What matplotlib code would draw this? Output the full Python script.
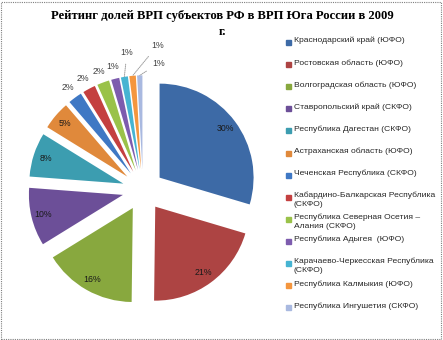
import numpy as np
import matplotlib
matplotlib.use("Agg")
import matplotlib.pyplot as plt
from matplotlib.patches import Rectangle
from matplotlib.lines import Line2D

regions = ["Краснодарский край (ЮФО)",
           "Ростовская область (ЮФО)",
           "Волгоградская область (ЮФО)",
           "Ставропольский край (СКФО)",
           "Республика Дагестан (СКФО)",
           "Астраханская область (ЮФО)",
           "Чеченская Республика (СКФО)",
           "Кабардино-Балкарская Республика\n(СКФО)",
           "Республика Северная Осетия –\nАлания (СКФО)",
           "Республика Адыгея  (ЮФО)",
           "Карачаево-Черкесская Республика\n(СКФО)",
           "Республика Калмыкия (ЮФО)",
           "Республика Ингушетия (СКФО)"]
shares = [29.6, 20.6, 16.0, 10.0, 7.6, 4.9, 2.4, 2.2, 2.1, 1.4, 1.2, 1.1, 0.9]
colors = ["#3d6aa6", "#ad4443", "#88a83e", "#6c4f98", "#3c9db0", "#e0893b",
          "#3f78c4", "#c44040", "#9ac249", "#7d5cae", "#46b4d2", "#f4963e",
          "#a9b9e0"]

def main():
    fig = plt.figure(figsize=(4.43, 3.40), dpi=100)
    fig.patch.set_facecolor("white")
    fig.add_artist(Rectangle((0.003, 0.003), 0.992, 0.992, transform=fig.transFigure,
                             fill=False, ec="#7f7f7f", lw=0.8, ls=(0, (1, 1))))

    fig.text(0.501, 0.953, "Рейтинг долей ВРП субъектов РФ в ВРП Юга России в 2009",
             ha="center", va="center", family="Liberation Serif", weight="bold",
             fontsize=9.1)
    fig.text(0.501, 0.906, "г.", ha="center", va="center", family="Liberation Serif",
             weight="bold", fontsize=9.1)

    ax = fig.add_axes([2/443, 9/340, 282/443, 282/340])

    expl = 0.22
    wedges, _ = ax.pie(shares, colors=colors, startangle=90, counterclock=False,
                       explode=[expl]*len(shares), radius=1.0,
                       wedgeprops=dict(linewidth=0))
    ax.set_xlim(-1.5, 1.5)
    ax.set_ylim(-1.5, 1.5)
    ax.set_aspect("equal")
    ax.axis("off")

    pct = ["%d%%" % int(round(v)) for v in shares]
    # leader-line labels for the tiny slices: (angle, distance)
    far = {10: (96.7, 1.47), 11: (84.4, 1.54), 12: (82.8, 1.36)}
    for i, w in enumerate(wedges):
        th = np.deg2rad((w.theta1 + w.theta2) / 2)
        d = np.array([np.cos(th), np.sin(th)])
        if i < 6:
            x, y = (expl + 0.87) * d
            ax.text(x, y, pct[i], ha="center", va="center", fontsize=6.3,
                    family="Liberation Sans", color="#1a1a1a")
        elif i < 10:
            x, y = 1.35 * d
            ax.text(x, y, pct[i], ha="center", va="center", fontsize=6.3,
                    family="Liberation Sans", color="#404040")
        else:
            a, r = far[i]
            lx, ly = r * np.cos(np.deg2rad(a)), r * np.sin(np.deg2rad(a))
            tip = (expl + 1.0) * d
            ax.annotate(pct[i], xy=tip, xytext=(lx, ly), ha="center", va="center",
                        fontsize=6.3, family="Liberation Sans", color="#404040",
                        arrowprops=dict(arrowstyle="-", color="#a0a0a0", lw=0.7,
                                        ls=(0, (1, 1)), shrinkA=3, shrinkB=0),
                        annotation_clip=False)

    # legend drawn by hand to mimic the spacing of the original
    y0, step = 1 - 42/340, 22.1/340
    for i, (lab, c) in enumerate(zip(regions, colors)):
        y = y0 - i * step
        fig.add_artist(Line2D([288/443], [y], marker="s", ms=3.6, color=c, lw=0,
                              transform=fig.transFigure))
        fig.text(294/443, y + 5/340, lab, ha="left", va="top", fontsize=6.1,
                 family="Liberation Sans", color="#262626", linespacing=1.3)

    fig.savefig("out.png", dpi=100)
    plt.close()


if __name__ == "__main__":
    main()
